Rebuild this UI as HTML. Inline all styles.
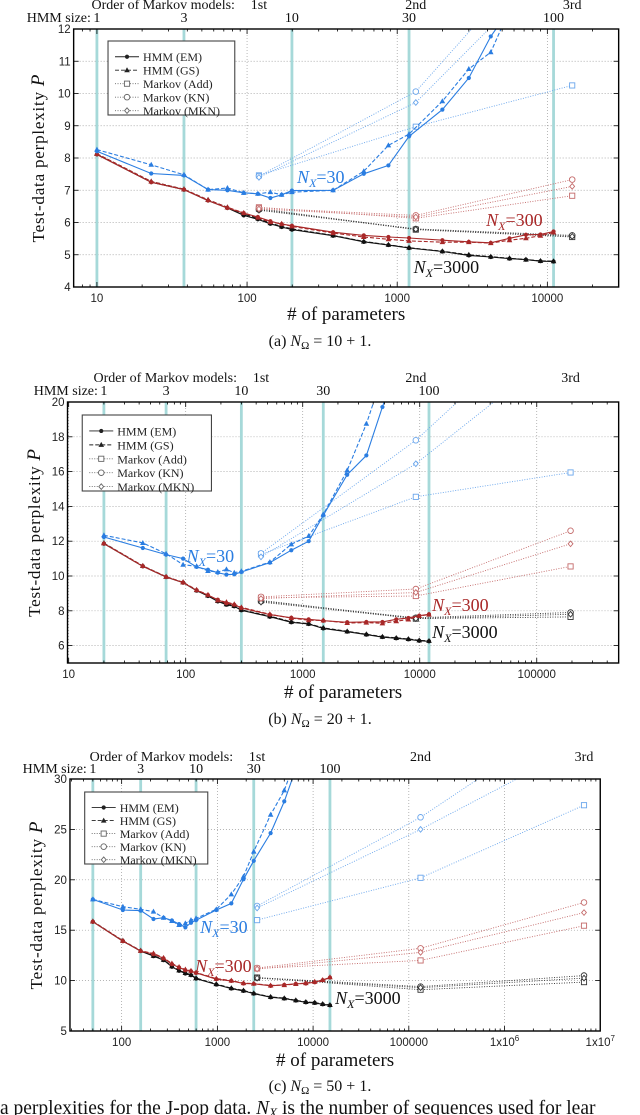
<!DOCTYPE html>
<html><head><meta charset="utf-8"><style>
html,body{margin:0;padding:0;background:#fff;}
svg{display:block;}
</style></head><body>
<svg id="fig" width="640" height="1115" viewBox="0 0 640 1115" xmlns="http://www.w3.org/2000/svg"></svg>
<script>
// ---------- Panel (a) data: N_Omega = 10+1 ----------
const p1Params = [10,23,38,55,74,95,118,143,170,199,374,599,874,1199,1999,2999,4199,5599,7199,8999,10999];
const p1Em3000 = [8.11,7.25,7.02,6.68,6.45,6.22,6.10,5.96,5.86,5.78,5.59,5.40,5.30,5.21,5.10,4.98,4.93,4.88,4.85,4.80,4.79];
const p1Gs3000 = [8.13,7.27,7.03,6.70,6.47,6.26,6.13,5.98,5.88,5.80,5.60,5.41,5.31,5.22,5.11,5.00,4.94,4.89,4.85,4.81,4.80];
const p1Em300 = [8.11,7.25,7.02,6.68,6.45,6.29,6.17,6.04,5.95,5.90,5.70,5.60,5.55,5.52,5.45,5.40,5.37,5.51,5.62,5.63,5.72];
const p1Gs300 = [8.13,7.27,7.03,6.70,6.47,6.30,6.15,6.01,5.96,5.88,5.67,5.55,5.48,5.43,5.39,5.39,5.36,5.45,5.51,5.59,5.69];
const p1Em30 = [8.21,7.52,7.46,7.02,7.00,6.92,6.89,6.76,6.86,6.99,7.00,7.51,7.77,8.67,9.50,10.48,11.77,12.6,13.2,13.8,14.4];
const p1Gs30 = [8.26,7.79,7.48,7.02,7.07,6.92,6.89,6.94,6.86,6.94,7.00,7.59,8.39,8.74,9.76,10.76,11.28,12.6,13.3,14.0,14.6];
const p1MarkovParams = [120,1330,14640];
const p1Add30 = [7.46,8.97,10.25], p1Kn30 = [7.44,10.06,15.5], p1Mkn30 = [7.40,9.72,14.6];
const p1Add300 = [6.47,6.13,6.83], p1Kn300 = [6.45,6.22,7.33], p1Mkn300 = [6.42,6.17,7.12];
const p1Add3000 = [6.43,5.78,5.55], p1Kn3000 = [6.40,5.80,5.60], p1Mkn3000 = [6.38,5.79,5.57];
const p1XTicks = [10,100,1000,10000];
const p1XTickLabels = ["10","100","1000","10000"];
const p1YTicks = [4,5,6,7,8,9,10,11,12];

// ---------- Panel (b) data: N_Omega = 20+1 ----------
const p2Params = [20,43,68,95,124,155,188,223,260,299,524,799,1124,1499,2399,3499,4799,6299,7999,9899,11999];
const p2Em3000 = [11.86,10.56,9.94,9.62,9.16,8.85,8.54,8.35,8.26,8.03,7.66,7.34,7.24,6.99,6.80,6.63,6.49,6.42,6.36,6.28,6.25];
const p2Gs3000 = [11.89,10.58,9.96,9.64,9.19,8.88,8.57,8.38,8.28,8.06,7.69,7.37,7.26,7.02,6.82,6.65,6.51,6.44,6.38,6.30,6.27];
const p2Em300 = [11.86,10.56,9.94,9.62,9.18,8.90,8.64,8.43,8.35,8.16,7.78,7.60,7.51,7.43,7.34,7.36,7.36,7.51,7.59,7.72,7.80];
const p2Gs300 = [11.88,10.58,9.96,9.64,9.20,8.92,8.60,8.50,8.38,8.20,7.80,7.58,7.46,7.45,7.30,7.32,7.28,7.40,7.50,7.70,7.78];
const p2Em30 = [12.24,11.61,11.23,11.00,10.52,10.36,10.19,10.08,10.10,10.23,10.77,11.48,12.0,13.49,15.82,16.93,19.71,22,24,26,28];
const p2Gs30 = [12.34,11.90,11.28,10.65,10.56,10.29,10.23,10.38,10.19,10.27,10.80,11.82,12.3,13.54,16.07,18.75,21.5,24,26,28,30];
const p2MarkovParams = [440,9260,194480];
const p2Add30 = [11.25,14.55,15.95], p2Kn30 = [11.3,17.8,26], p2Mkn30 = [11.1,16.45,23.5];
const p2Add300 = [8.75,8.85,10.55], p2Kn300 = [8.8,9.25,12.6], p2Mkn300 = [8.7,9.05,11.85];
const p2Add3000 = [8.6,7.55,7.65], p2Kn3000 = [8.55,7.6,7.9], p2Mkn3000 = [8.5,7.55,7.8];
const p2XTicks = [10,100,1000,10000,100000];
const p2XTickLabels = ["10","100","1000","10000","100000"];
const p2YTicks = [6,8,10,12,14,16,18,20];

// ---------- Panel (c) data: N_Omega = 50+1 ----------
const p3Params = [50,103,158,215,274,335,398,463,530,599,974,1399,1874,2399,3599,4999,6599,8399,10399,12599,14999];
const p3Em3000 = [15.84,13.92,12.93,12.43,12.03,11.37,10.97,10.70,10.54,10.20,9.61,9.21,8.98,8.71,8.35,8.22,8.02,7.85,7.79,7.65,7.55];
const p3Gs3000 = [15.88,13.96,12.97,12.47,12.07,11.42,11.02,10.75,10.58,10.25,9.65,9.25,9.02,8.74,8.38,8.25,8.05,7.88,7.82,7.68,7.58];
const p3Em300 = [15.84,13.92,12.93,12.63,12.20,11.63,11.30,11.03,10.93,10.77,10.14,9.97,9.71,9.68,9.48,9.58,9.68,9.71,9.84,10.04,10.30];
const p3Gs300 = [15.86,13.95,12.96,12.70,12.25,11.70,11.35,11.10,10.98,10.80,10.20,10.00,9.75,9.70,9.52,9.55,9.66,9.75,9.88,10.06,10.33];
const p3Em30 = [18.06,17.0,16.94,16.11,16.24,15.97,15.61,15.28,15.74,16.0,17.0,17.66,20.05,21.88,24.63,27.78,31,34,37,40,43];
const p3Gs30 = [18.06,17.33,17.07,16.84,16.24,15.91,15.51,15.68,16.0,16.17,17.07,18.56,20.32,22.8,26.45,28.87,32,35,38,41,44];
const p3MarkovParams = [2600,132650,6765200];
const p3Add30 = [16.0,20.2,27.4], p3Kn30 = [17.4,26.2,37], p3Mkn30 = [17.2,25.0,33.5];
const p3Add300 = [11.2,12.0,15.45], p3Kn300 = [11.25,13.2,17.75], p3Mkn300 = [11.15,12.8,16.75];
const p3Add3000 = [10.3,9.1,9.85], p3Kn3000 = [10.3,9.4,10.5], p3Mkn3000 = [10.25,9.3,10.25];
const p3XTicks = [100,1000,10000,100000,1000000,10000000];
const p3XTickLabels = ["100","1000","10000","100000","1x10^6","1x10^7"];
const p3YTicks = [5,10,15,20,25,30];

const hmmSizeLabels = ["1","3","10","30","100"];
const hmmSizeIdx = [0,2,9,13,20];
const orderLabels = ["1st","2nd","3rd"];

const SX = 1.2275;
const NS = "http://www.w3.org/2000/svg";
const svg = document.getElementById('fig');
function mk(tag, attrs, parent){
  const e = document.createElementNS(NS, tag);
  for (const k in attrs) e.setAttribute(k, attrs[k]);
  (parent||svg).appendChild(e);
  return e;
}
const COL = {
  "30": {line:"#2a7de1", mk:"#6aa6ec"},
  "300": {line:"#a82828", mk:"#c46a6a"},
  "3000": {line:"#111", mk:"#333"}
};

function panel(cfg){
  const g = mk('g', {});
  
  
  const L=cfg.left*SX, R=cfg.right*SX, T=cfg.top, B=cfg.bottom;
  const xs = v => L + (Math.log10(v) - cfg.xlmin) / (cfg.xlmax - cfg.xlmin) * (R - L);
  const ys = v => B - (v - cfg.ymin) / (cfg.ymax - cfg.ymin) * (B - T);

  const clipId = 'clip' + cfg.id;
  const cp = mk('clipPath', {id: clipId}, g);
  mk('rect', {x:L, y:T, width:R-L, height:B-T}, cp);

  const grid = mk('g', {stroke:"#9a9a9a", "stroke-width":0.7, "stroke-dasharray":"1,2"}, g);
  
  
  cfg.yTicks.forEach(v => { if (v>cfg.ymin && v<cfg.ymax) mk('line', {x1:L, x2:R, y1:ys(v), y2:ys(v)}, grid); });
  cfg.xTicks.forEach(v => { const x=xs(v); if (x>L+1 && x<R-1) mk('line', {x1:x, x2:x, y1:T, y2:B}, grid); });

  const vl = mk('g', {stroke:"#a6d9d9", "stroke-width":2.8}, g);
  
  
  hmmSizeIdx.forEach((idx,i) => {
    const x = xs(cfg.params[idx]);
    mk('line', {x1:x, x2:x, y1:T, y2:B}, vl);
    const t = mk('text', {x:x, y:cfg.hmmY, "text-anchor":"middle", "font-family":"Liberation Serif, serif", "font-size":14, fill:"#111"}, g);
    t.textContent = hmmSizeLabels[i];
    
    
  });
  const hs = mk('text', {x:xs(cfg.params[0])-6, y:cfg.hmmY, "text-anchor":"end", "font-family":"Liberation Serif, serif", "font-size":14, fill:"#111"}, g);
  hs.textContent = "HMM size:";
  
  
  cfg.mParams.forEach((p,i) => {
    const t = mk('text', {x:xs(p), y:cfg.orderY, "text-anchor":"middle", "font-family":"Liberation Serif, serif", "font-size":14, fill:"#111"}, g);
    t.textContent = orderLabels[i];
    
    
  });
  const ot = mk('text', {x:xs(cfg.mParams[0])-24, y:cfg.orderY, "text-anchor":"end", "font-family":"Liberation Serif, serif", "font-size":14, fill:"#111"}, g);
  ot.textContent = "Order of Markov models:";
  
  

  const sg = mk('g', {"clip-path":"url(#"+clipId+")"}, g);
  
  
  function marker(type, x, y, col, parent){
    let m;
    if (type==='circleFill') m = mk('circle', {cx:x, cy:y, r:2.1, fill:col}, parent);
    else if (type==='tri') m = mk('polygon', {points:`${x},${y-3} ${x-2.8},${y+2} ${x+2.8},${y+2}`, fill:col}, parent);
    else if (type==='square') m = mk('rect', {x:x-2.6, y:y-2.6, width:5.2, height:5.2, fill:"#fff", stroke:col, "stroke-width":0.9}, parent);
    else if (type==='circle') m = mk('circle', {cx:x, cy:y, r:2.8, fill:"#fff", stroke:col, "stroke-width":0.9}, parent);
    else m = mk('polygon', {points:`${x},${y-2.8} ${x+2.4},${y} ${x},${y+2.8} ${x-2.4},${y}`, fill:"#fff", stroke:col, "stroke-width":0.9}, parent);
    return m;
  }
  function series(name, px, vals, col, dash, width, mtype){
    const sgg = mk('g', {}, sg);
    
    
    const pts = px.map((p,i) => xs(p).toFixed(1)+","+ys(vals[i]).toFixed(1)).join(" ");
    const a = {points:pts, fill:"none", stroke:col, "stroke-width":width};
    if (dash) a["stroke-dasharray"] = dash;
    mk('polyline', a, sgg);
    px.forEach((p,i) => {
      const m = marker(mtype, xs(p), ys(vals[i]), col, sgg);
      
      
    });
  }
  ["3000","300","30"].forEach(n => {
    const d = cfg.data[n];
    const c = COL[n];
    series('markov-add-nx'+n, cfg.mParams, d.add, c.mk, "1,1.5", 0.9, 'square');
    series('markov-kn-nx'+n, cfg.mParams, d.kn, c.mk, "1,1.5", 0.9, 'circle');
    series('markov-mkn-nx'+n, cfg.mParams, d.mkn, c.mk, "1,1.5", 0.9, 'diamond');
    series('hmm-gs-nx'+n, cfg.params, d.gs, c.line, "4,2", 1.1, 'tri');
    series('hmm-em-nx'+n, cfg.params, d.em, c.line, null, 1.1, 'circleFill');
  });

  const fr = mk('rect', {x:L, y:T, width:R-L, height:B-T, fill:"none", stroke:"#000", "stroke-width":1.4}, g);
  
  

  const tk = mk('g', {stroke:"#000", "stroke-width":0.8}, g);
  
  
  for (let d=Math.floor(cfg.xlmin); d<=Math.ceil(cfg.xlmax); d++){
    for (let k=1;k<10;k++){
      const lv = d + Math.log10(k);
      if (lv<=cfg.xlmin || lv>=cfg.xlmax) continue;
      const x = L + (lv-cfg.xlmin)/(cfg.xlmax-cfg.xlmin)*(R-L);
      const len = k===1?5:2.5;
      mk('line', {x1:x, x2:x, y1:B, y2:B-len}, tk);
      mk('line', {x1:x, x2:x, y1:T, y2:T+len}, tk);
    }
  }
  cfg.yTicks.forEach(v => {
    mk('line', {x1:L, x2:L+5, y1:ys(v), y2:ys(v)}, tk);
    mk('line', {x1:R, x2:R-5, y1:ys(v), y2:ys(v)}, tk);
  });
  cfg.xTicks.forEach((v,i) => {
    const t = mk('text', {x:xs(v), y:B+15, "text-anchor":"middle", "font-family":"Liberation Sans, sans-serif", "font-size":11.5, fill:"#222"}, g);
    const lab = cfg.xTickLabels[i];
    if (lab.indexOf('^')>=0){
      const parts = lab.split('^');
      t.textContent = parts[0];
      const s = mk('tspan', {dy:-5, "font-size":8}, t);
      s.textContent = parts[1];
    } else t.textContent = lab;
    
    
  });
  cfg.yTicks.forEach(v => {
    const t = mk('text', {x:L-3, y:ys(v)+4, "text-anchor":"end", "font-family":"Liberation Sans, sans-serif", "font-size":11.5, fill:"#222"}, g);
    t.textContent = String(v);
    
    
  });

  const xt = mk('text', {x:(L+R)/2, y:cfg.xTitleY, "text-anchor":"middle", "font-family":"Liberation Serif, serif", "font-size":19, fill:"#111"}, g);
  xt.textContent = "# of parameters";
  
  
  const cy = (T+B)/2;
  const yt = mk('text', {x:0, y:0, transform:`translate(${cfg.yTitleX},${cy}) rotate(-90)`, "text-anchor":"middle", "font-family":"Liberation Serif, serif", "font-size":17, "letter-spacing":"0.8", fill:"#111"}, g);
  yt.textContent = "Test-data perplexity ";
  const yp = mk('tspan', {"font-style":"italic", "font-size":19}, yt);
  yp.textContent = "P";
  
  

  cfg.annot.forEach(a => {
    const t = mk('text', {x:a.x*SX, y:a.y, "font-family":"Liberation Serif, serif", "font-size":18, fill:COL[a.n].line}, g);
    const i1 = mk('tspan', {"font-style":"italic"}, t); i1.textContent = "N";
    const i2 = mk('tspan', {"font-style":"italic", "font-size":12, dy:4}, t); i2.textContent = "X";
    const i3 = mk('tspan', {dy:-4}, t); i3.textContent = "=" + a.n;
    
    
  });

  const lg = mk('g', {}, g);
  
  
  const lb = cfg.legend;
  const lx = lb.x*SX, lw = lb.w*SX + 4;
  mk('rect', {x:lx, y:lb.y, width:lw, height:lb.h, fill:"#fff", stroke:"#444", "stroke-width":1.1}, lg);
  const ents = [["HMM (EM)",null,'circleFill'],["HMM (GS)","4,2",'tri'],["Markov (Add)","1,1.5",'square'],["Markov (KN)","1,1.5",'circle'],["Markov (MKN)","1,1.5",'diamond']];
  const step = (lb.h-12)/4.6;
  ents.forEach((e,i) => {
    const yy = lb.y + 9 + step*0.5 + i*step;
    const eg = mk('g', {}, lg);
    
    
    const col = i<2 ? "#222" : "#666";
    const la = {x1:lx+7, x2:lx+31, y1:yy, y2:yy, stroke:col, "stroke-width":0.9};
    if (e[1]) la["stroke-dasharray"] = e[1];
    mk('line', la, eg);
    marker(e[2], lx+19, yy, col, eg);
    const t = mk('text', {x:lx+35, y:yy+4.5, "font-family":"Liberation Serif, serif", "font-size":12, fill:"#222"}, eg);
    t.textContent = e[0];
  });

  const cap = mk('text', {x:320, y:cfg.capY, "text-anchor":"middle", "font-family":"Liberation Serif, serif", "font-size":16, fill:"#111"}, g);
  cap.textContent = "(" + cfg.id + ") ";
  const c1 = mk('tspan', {"font-style":"italic"}, cap); c1.textContent = "N";
  const c2 = mk('tspan', {"font-size":11, dy:3}, cap); c2.textContent = "Ω";
  const c3 = mk('tspan', {dy:-3}, cap); c3.textContent = " = " + cfg.capNum + " + 1.";
  
  
}

panel({id:'a', left:60, right:504, top:29, bottom:287, xlmin:0.845, xlmax:4.475, ymin:4, ymax:12,
  params:p1Params, mParams:p1MarkovParams, xTicks:p1XTicks, xTickLabels:p1XTickLabels, yTicks:p1YTicks,
  hmmY:22, orderY:9, xTitleY:320, yTitleX:44, capY:346, capNum:"10",
  legend:{x:88, y:41, w:100, h:74},
  annot:[{n:"30", x:242, y:183},{n:"300", x:396, y:226},{n:"3000", x:337, y:273}],
  data:{"30":{em:p1Em30, gs:p1Gs30, add:p1Add30, kn:p1Kn30, mkn:p1Mkn30},
        "300":{em:p1Em300, gs:p1Gs300, add:p1Add300, kn:p1Kn300, mkn:p1Mkn300},
        "3000":{em:p1Em3000, gs:p1Gs3000, add:p1Add3000, kn:p1Kn3000, mkn:p1Mkn3000}}});

panel({id:'b', left:55, right:504, top:402, bottom:663, xlmin:0.99, xlmax:5.70, ymin:5, ymax:20,
  params:p2Params, mParams:p2MarkovParams, xTicks:p2XTicks, xTickLabels:p2XTickLabels, yTicks:p2YTicks,
  hmmY:395, orderY:382, xTitleY:698, yTitleX:40, capY:724, capNum:"20",
  legend:{x:67, y:415, w:102, h:76},
  annot:[{n:"30", x:152, y:562},{n:"300", x:352, y:611},{n:"3000", x:352, y:638}],
  data:{"30":{em:p2Em30, gs:p2Gs30, add:p2Add30, kn:p2Kn30, mkn:p2Mkn30},
        "300":{em:p2Em300, gs:p2Gs300, add:p2Add300, kn:p2Kn300, mkn:p2Mkn300},
        "3000":{em:p2Em3000, gs:p2Gs3000, add:p2Add3000, kn:p2Kn3000, mkn:p2Mkn3000}}});

panel({id:'c', left:57, right:489, top:779, bottom:1031, xlmin:1.46, xlmax:7.0, ymin:5, ymax:30,
  params:p3Params, mParams:p3MarkovParams, xTicks:p3XTicks, xTickLabels:p3XTickLabels, yTicks:p3YTicks,
  hmmY:773, orderY:761, xTitleY:1066, yTitleX:42, capY:1091, capNum:"50",
  legend:{x:69, y:792, w:97, h:72},
  annot:[{n:"30", x:163, y:933},{n:"300", x:159, y:972},{n:"3000", x:273, y:1004}],
  data:{"30":{em:p3Em30, gs:p3Gs30, add:p3Add30, kn:p3Kn30, mkn:p3Mkn30},
        "300":{em:p3Em300, gs:p3Gs300, add:p3Add300, kn:p3Kn300, mkn:p3Mkn300},
        "3000":{em:p3Em3000, gs:p3Gs3000, add:p3Add3000, kn:p3Kn3000, mkn:p3Mkn3000}}});

const bt = mk('text', {x:0, y:1114, "font-family":"Liberation Serif, serif", "font-size":19.5, fill:"#111"});
bt.textContent = "a perplexities for the J-pop data. ";
const b1 = mk('tspan', {"font-style":"italic"}, bt); b1.textContent = "N";
const b2 = mk('tspan', {"font-style":"italic", "font-size":13, dy:3}, bt); b2.textContent = "X";
const b3 = mk('tspan', {dy:-3}, bt); b3.textContent = " is the number of sequences used for lear";


</script>
</body></html>
